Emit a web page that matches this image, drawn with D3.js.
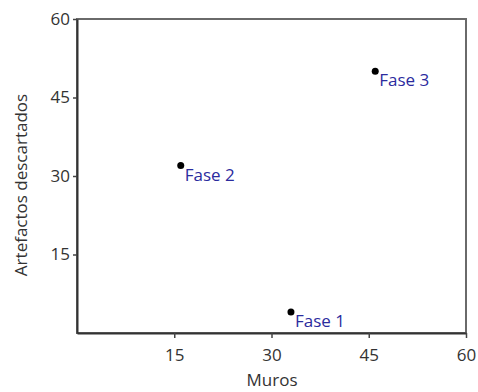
<!DOCTYPE html>
<html><head><meta charset="utf-8">
<script src="https://cdn.jsdelivr.net/npm/d3@7"></script>
<style>body{margin:0;background:#fff}svg{display:block}text{font-family:"Open Sans","Noto Sans",sans-serif}</style>
</head><body>
<svg id="c" width="478" height="392"></svg>
<script>
const labels = ["Fase 1", "Fase 2", "Fase 3"];
const muros = [33, 16, 46];
const artefactos = [4, 32, 50];
const xTicks = [15, 30, 45, 60];
const yTicks = [15, 30, 45, 60];

const svg = d3.select("#c");
const m = {l: 77, r: 466, t: 19, b: 333};
const x = d3.scaleLinear().domain([0, 60]).range([m.l, m.r]);
const y = d3.scaleLinear().domain([0, 60]).range([m.b, m.t]);

svg.append("rect").attr("x", m.l).attr("y", m.t).attr("width", m.r - m.l).attr("height", m.b - m.t)
  .attr("fill", "none").attr("stroke", "#6a6a6a").attr("stroke-width", 2);

const xa = svg.append("g").attr("transform", `translate(0,${m.b})`)
  .call(d3.axisBottom(x).tickValues(xTicks).tickSize(5).tickSizeOuter(0).tickPadding(11));
const ya = svg.append("g").attr("transform", `translate(${m.l},0)`)
  .call(d3.axisLeft(y).tickValues(yTicks).tickSize(4).tickSizeOuter(0).tickPadding(3));
[xa, ya].forEach(a => {
  a.select(".domain").attr("stroke", "#333").attr("stroke-width", 2);
  a.selectAll(".tick line").attr("stroke", "#444").attr("stroke-width", 1.5);
  a.selectAll(".tick text").attr("font-size", 17).attr("fill", "#333");
});

svg.append("text").attr("x", 272).attr("y", 386).attr("text-anchor", "middle")
  .attr("font-size", 17).attr("fill", "#333").text("Muros");
svg.append("text").attr("transform", `translate(27,185) rotate(-90)`)
  .attr("text-anchor", "middle").attr("font-size", 17).attr("fill", "#333").text("Artefactos descartados");

const pts = labels.map((l, i) => ({l, x: muros[i], y: artefactos[i]}));
svg.selectAll("circle.p").data(pts).join("circle").attr("class", "p")
  .attr("cx", d => x(d.x)).attr("cy", d => y(d.y)).attr("r", 3.5).attr("fill", "#000");
svg.selectAll("text.lbl").data(pts).join("text").attr("class", "lbl")
  .attr("x", d => x(d.x) + 4).attr("y", d => y(d.y) + 15)
  .attr("font-size", 17).attr("fill", "#2b2b9e").text(d => d.l);
</script>
</body></html>
